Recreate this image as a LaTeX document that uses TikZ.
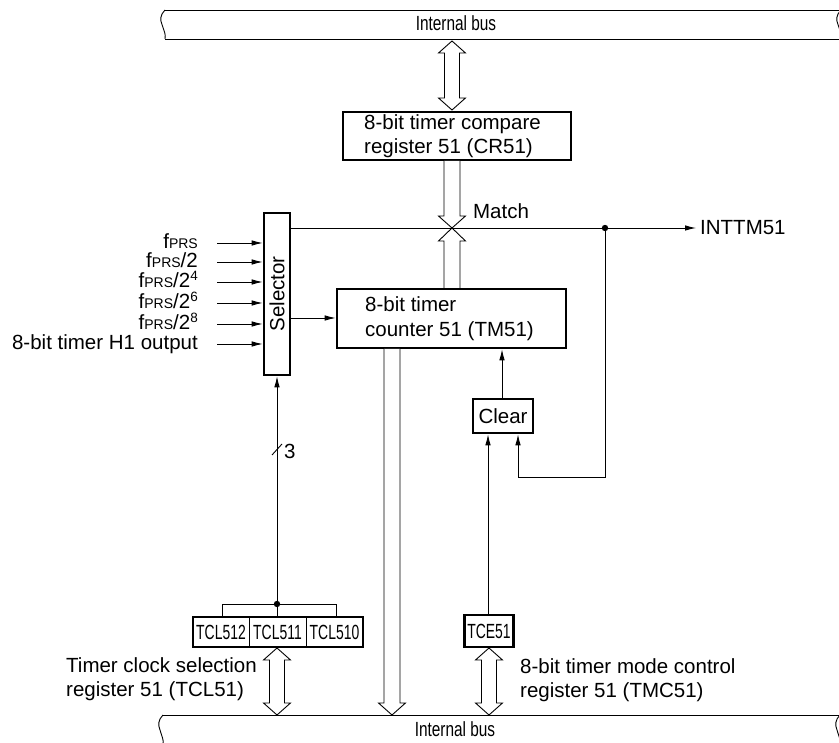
\documentclass[tikz,border=0pt]{standalone}
\usepackage{fontspec}
\setmainfont{Liberation Sans}
\usepackage{graphicx}
\usetikzlibrary{arrows.meta}
\newcommand\smallprs{{\fontsize{14}{14}\selectfont PRS}}
\newcommand\supr[1]{\raisebox{7pt}{\fontsize{13.5}{14}\selectfont #1}}
\newcommand\narrow[1]{\scalebox{0.68}[1]{#1}}
% hollow double-headed arrow: centre x, top tip y, bottom tip y
\newcommand\hdouble[3]{%
 \draw[hol] (#1,#2) -- ({#1+13.5},{#2+12}) -- ({#1+7.5},{#2+12}) -- ({#1+7.5},{#3-12}) -- ({#1+13.5},{#3-12}) -- (#1,#3) -- ({#1-13.5},{#3-12}) -- ({#1-7.5},{#3-12}) -- ({#1-7.5},{#2+12}) -- ({#1-13.5},{#2+12}) -- cycle;}
% hollow arrow pointing down: centre x, start y, tip y
\newcommand\hdown[3]{%
 \draw[hol] ({#1-8},#2) -- ({#1-8},{#3-12}) -- ({#1-13.5},{#3-12}) -- (#1,#3) -- ({#1+13.5},{#3-12}) -- ({#1+8},{#3-12}) -- ({#1+8},#2);}
% hollow arrow pointing up: centre x, start y, tip y
\newcommand\hup[3]{%
 \draw[hol] ({#1-8},#2) -- ({#1-8},{#3+13}) -- ({#1-13.5},{#3+13}) -- (#1,#3) -- ({#1+13.5},{#3+13}) -- ({#1+8},{#3+13}) -- ({#1+8},#2);}
% wavy bus end: x, top y, bottom y
\newcommand\buswave[3]{%
 \draw[ln] (#1,#2) .. controls ({#1-5},{#2+5}) and ({#1-5},{#2+10}) .. ({#1-3},{(#2+#3)/2}) .. controls ({#1-1},{#3-8}) and ({#1+1},{#3-5}) .. ({#1},#3);}
\begin{document}
\begin{tikzpicture}[x=1pt,y=-1pt,
  every node/.style={font=\fontsize{20.5}{23.5}\selectfont, inner sep=0pt},
  box/.style={draw, line width=2.6pt, fill=white},
  ln/.style={line width=0.9pt},
  arr/.style={ln, -{Latex[length=11pt,width=5.5pt]}},
  hol/.style={line width=0.9pt, fill=white, line join=miter},
  inlab/.style={anchor=east, text height=14pt, text depth=3pt}]
\useasboundingbox (0,0) rectangle (839,743);

% ---- buses ----
\begin{scope}
\clip (0,0) rectangle (839,743);
\draw[ln] (165,10) -- (850,10);
\draw[ln] (165,39) -- (850,39);
\buswave{165}{10}{39}
\buswave{841}{10}{39}
\draw[ln] (163,715) -- (850,715);
\draw[ln] (163,745) -- (850,745);
\buswave{163}{715}{745}
\buswave{840}{715}{745}
\end{scope}
\node (topbus) at (456,23) {\scalebox{0.75}[1]{Internal bus}};
\node (botbus) at (455,729) {\scalebox{0.75}[1]{Internal bus}};

% ---- boxes ----
\node[box, minimum width=228, minimum height=48] (cr) at (457,136) {};
\node[anchor=west, align=left] (crt) at (364,136) {8-bit timer compare\\register 51 (CR51)};
\node[box, minimum width=229, minimum height=59] (tm) at (451.5,318.5) {};
\node[anchor=west, align=left, font=\fontsize{20.5}{25}\selectfont] (tmt) at (365,319) {8-bit timer\\counter 51 (TM51)};
\node[box, minimum width=26, minimum height=162] (sel) at (277,294) {};
\node[rotate=90] (selt) at (277,294) {Selector};
\node[box, minimum width=60, minimum height=34] (clr) at (503,416) {Clear};
\node[box, minimum width=49, minimum height=32] (tce) at (489,631) {\narrow{TCE51}};
\node[box, minimum width=170, minimum height=30] (tcl) at (278,632) {};
\draw[ln] (249,617) -- (249,647);
\draw[ln] (306,617) -- (306,647);
\node (b2) at (221,632) {\narrow{TCL512}};
\node (b1) at (277.5,632) {\narrow{TCL511}};
\node (b0) at (334.5,632) {\narrow{TCL510}};

% ---- hollow bus arrows ----
\hdouble{452}{41}{110}
\hdown{452}{161}{228}
\hup{452}{288}{228}
\hdown{392}{349}{715}
\hdouble{277}{648}{715}
\hdouble{489}{648}{715}

% ---- selector inputs ----
\foreach \yy/\lab [count=\i] in {243/{f\smallprs},262/{f\smallprs/2},282/{f\smallprs/2\supr{4}},303/{f\smallprs/2\supr{6}},324/{f\smallprs/2\supr{8}},344/{8-bit timer H1 output}}{
  \node[inlab] (lab\i) at (198,\yy) {\lab};
  \coordinate (in\i) at (217,\yy);
  \draw[arr] (in\i) -- (in\i -| sel.west);
}
\coordinate (selout) at (sel.east |- 0,318);
\draw[arr] (selout) -- (selout -| tm.west);

% ---- match line ----
\coordinate (mstart) at (sel.east |- 0,228);
\coordinate (mend) at (696,228);
\coordinate (mdot) at (605,228);
\draw[arr] (mstart) -- (mend);
\fill (mdot) circle (3.2);
\node[anchor=west] (intt) at (700,228) {INTTM51};
\node (match) at (501,211) {Match};

% ---- clear logic ----
\coordinate (fb1) at (605,477);
\coordinate (fb2) at (518,477);
\draw[arr] (mdot) -- (fb1) -- (fb2) -- (fb2 |- clr.south);
\draw[arr] (tce.north -| 488,0) -- (clr.south -| 488,0);
\draw[arr] (clr.north -| 502,0) -- (tm.south -| 502,0);

% ---- TCL register to selector ----
\coordinate (tdot) at (277,604);
\draw[ln] (222,617) -- (222,604) -- (336,604) -- (336,617);
\draw[ln] (tdot) -- (277,617);
\fill (tdot) circle (3.2);
\draw[arr] (tdot) -- (sel.south);
\draw[ln] (272,455) -- (282,444);
\node[anchor=west] (three) at (284,451) {3};

% ---- register labels ----
\node[anchor=west, align=left] (tcllab) at (66,679) {Timer clock selection\\register 51 (TCL51)};
\node[anchor=west, align=left] (tmclab) at (520,680) {8-bit timer mode control\\register 51 (TMC51)};
\end{tikzpicture}
\end{document}
